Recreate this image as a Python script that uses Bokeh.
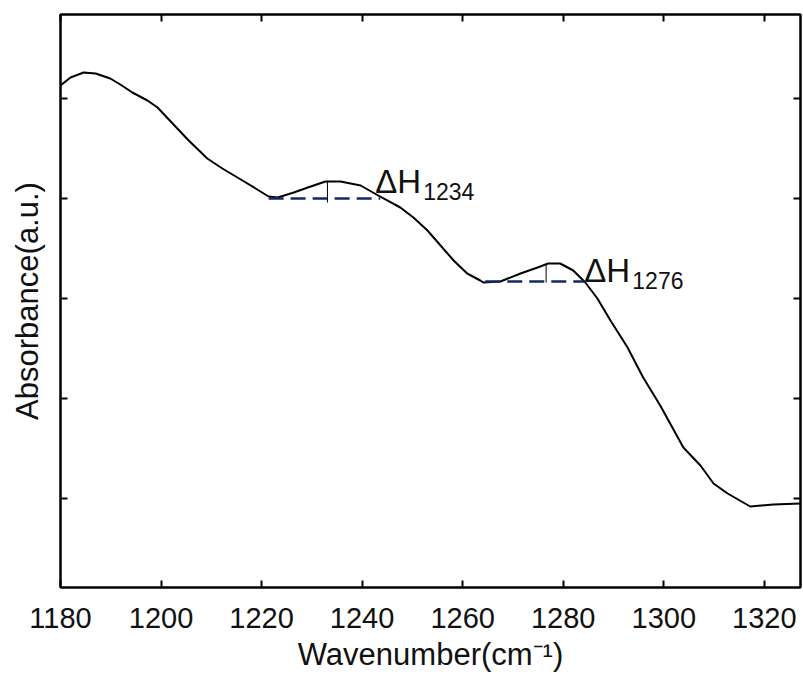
from bokeh.plotting import figure
from bokeh.models import LinearAxis, Range1d, FixedTicker, ColumnDataSource
from bokeh.core.properties import value
from bokeh.embed import file_html
from bokeh.resources import INLINE

# Spectrum (wavenumber, absorbance a.u.)
wavenumber = [1180.0, 1182.0, 1184.6, 1187.0, 1189.9, 1191.9, 1194.3, 1197.3, 1199.3,
              1202.3, 1205.5, 1209.2, 1212.2, 1216.2, 1218.8, 1221.4, 1223.2, 1226.4,
              1229.2, 1232.7, 1235.7, 1239.7, 1243.2, 1247.6, 1250.2, 1253.0, 1255.6,
              1258.2, 1260.9, 1263.5, 1264.1, 1267.5, 1271.5, 1274.9, 1277.0, 1279.4,
              1282.0, 1284.4, 1286.8, 1289.4, 1292.8, 1295.9, 1299.3, 1303.9, 1307.3,
              1309.9, 1312.7, 1317.2, 1321.8, 1327.2]
absorbance = [5.13, 5.21, 5.26, 5.25, 5.20, 5.14, 5.06, 4.98, 4.91,
              4.75, 4.58, 4.40, 4.30, 4.18, 4.10, 4.02, 4.01, 4.06,
              4.11, 4.17, 4.17, 4.13, 4.03, 3.91, 3.81, 3.68, 3.53,
              3.38, 3.25, 3.18, 3.16, 3.17, 3.25, 3.31, 3.35, 3.35,
              3.28, 3.16, 3.00, 2.78, 2.51, 2.21, 1.93, 1.51, 1.33,
              1.15, 1.05, 0.92, 0.94, 0.95]

# Baselines for peak heights
base_x0 = [1221.4, 1264.5]
base_x1 = [1243.6, 1284.4]
base_y = [4.00, 3.17]
peak_x = [1233.1, 1276.6]
peak_top = [4.17, 3.35]
peak_bottom = [3.96, 3.16]

# Labels
label_main = ["ΔH", "ΔH"]
label_sub = ["1234", "1276"]
label_x = [1242.6, 1284.2]
label_y = [4.17, 3.28]

x_ticks = [1180, 1200, 1220, 1240, 1260, 1280, 1300, 1320]
y_ticks = [1, 2, 3, 4, 5]

FONT = "Liberation Sans"

p = figure(width=803, height=683, output_backend="svg", toolbar_location=None,
           x_range=Range1d(1180, 1327.2), y_range=Range1d(0.11, 5.84),
           min_border_left=60, min_border_right=3, min_border_top=14,
           min_border_bottom=96, x_axis_location=None, y_axis_location=None)
p.grid.visible = False
p.outline_line_color = "black"
p.outline_line_width = 2

def make_axis(labels=True, label=None):
    ax = LinearAxis()
    ax.axis_line_width = 2
    ax.axis_line_color = "black"
    ax.major_tick_in = 7
    ax.major_tick_out = 0
    ax.major_tick_line_width = 2
    ax.minor_tick_line_color = None
    ax.major_label_text_font = FONT
    ax.major_label_text_font_size = "29px"
    ax.major_label_text_color = "#111111"
    if not labels:
        ax.major_label_text_font_size = "0px"
        ax.major_label_text_alpha = 0
    if label:
        ax.axis_label = label
        ax.axis_label_text_font = FONT
        ax.axis_label_text_font_size = "31px"
        ax.axis_label_text_font_style = "normal"
        ax.axis_label_text_color = "#111111"
    return ax

xb = make_axis(True, "Wavenumber(cm⁻¹)")
xb.ticker = FixedTicker(ticks=x_ticks)
xb.major_label_standoff = 20
xb.axis_label_standoff = 6
p.add_layout(xb, "below")

xt = make_axis(False)
xt.ticker = FixedTicker(ticks=x_ticks)
p.add_layout(xt, "above")

yl = make_axis(False, "Absorbance(a.u.)")
yl.ticker = FixedTicker(ticks=y_ticks)
yl.axis_label_standoff = 16
p.add_layout(yl, "left")

yr = make_axis(False)
yr.ticker = FixedTicker(ticks=y_ticks)
p.add_layout(yr, "right")

p.line(wavenumber, absorbance, line_color="black", line_width=2, line_join="round")

p.segment(x0=base_x0, y0=base_y, x1=base_x1, y1=base_y, line_color="#112a66",
          line_width=2.5, line_dash="15 7")
p.segment(x0=peak_x, y0=peak_bottom, x1=peak_x, y1=peak_top, line_color="black",
          line_width=1)

src = ColumnDataSource(dict(x=label_x, y=label_y, m=label_main, s=label_sub))
p.text(x="x", y="y", text="m", source=src, text_font=value(FONT),
       text_font_size="33px", text_color="#111111", text_baseline="alphabetic",
       text_align="left")
p.text(x="x", y="y", text="s", source=src, text_font=value(FONT),
       text_font_size="23px", text_color="#111111", text_baseline="alphabetic",
       text_align="left", x_offset=48, y_offset=10)

open("out.html", "w").write(file_html(p, INLINE))
